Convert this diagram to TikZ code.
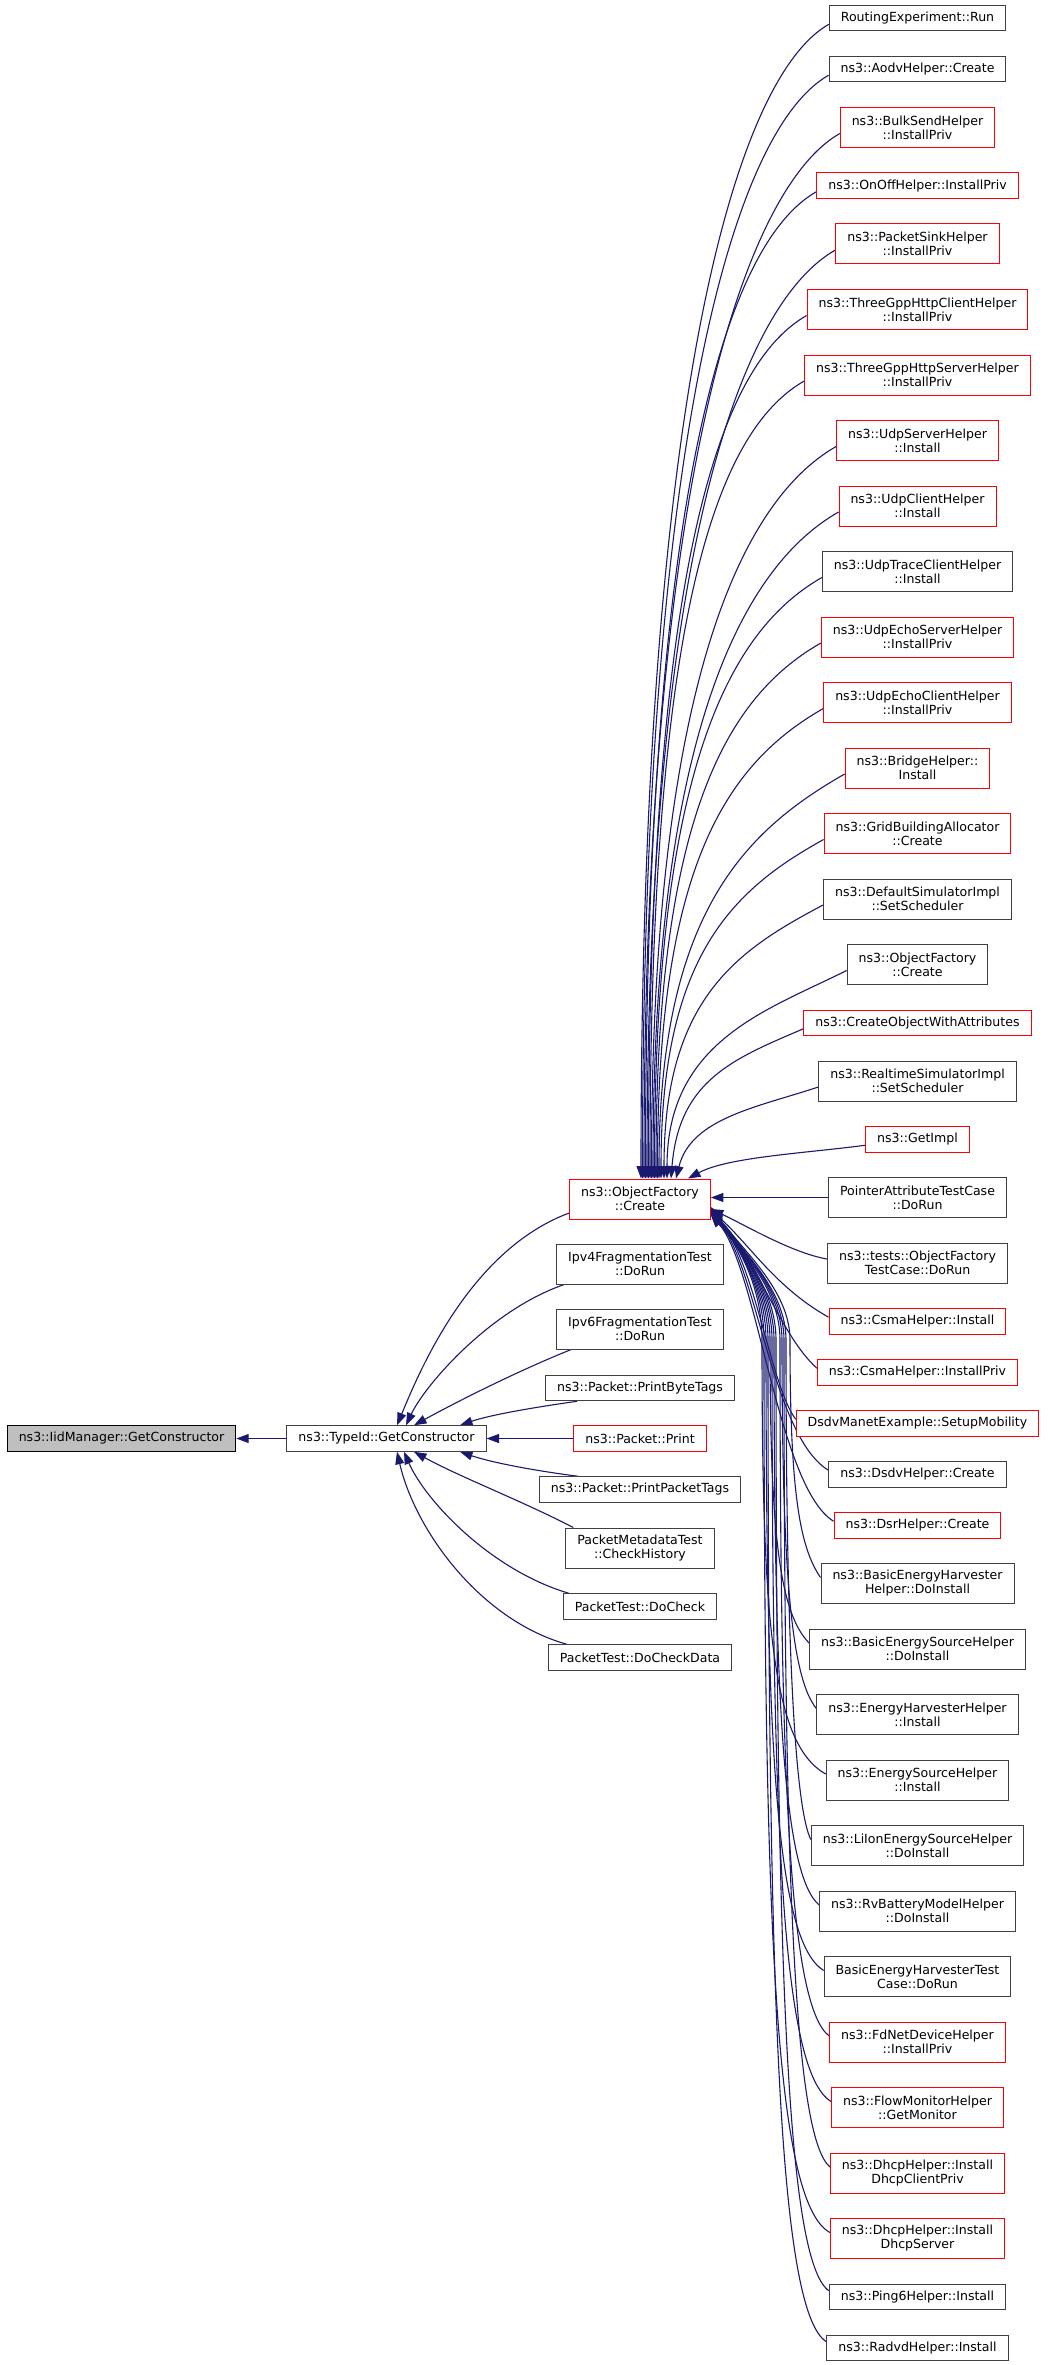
\documentclass[tikz,border=0pt]{standalone}
\usepackage{fontspec}
\newfontfamily\dvs{DejaVu Sans}
\usetikzlibrary{arrows.meta,calc}
\definecolor{edgeblue}{RGB}{25,25,112}
\definecolor{boxgray}{RGB}{64,64,64}
\definecolor{boxred}{RGB}{255,0,0}
\definecolor{fillgray}{RGB}{191,191,191}
\pgfdeclarelayer{bg}
\pgfsetlayers{bg,main}
\tikzset{
  nb/.style={draw=boxgray, line width=1pt, fill=white, font=\dvs\fontsize{12.56}{14}\selectfont, align=center, inner xsep=11.5pt, inner ysep=1pt, minimum height=25.5pt},
  nr/.style={nb, draw=boxred},
  two/.style={minimum height=40pt},
  call/.style={draw=edgeblue, line width=1.1pt, {Triangle[length=12.5pt,width=9pt]}-},
}
\begin{document}
\begin{tikzpicture}[x=1pt,y=-1pt]
\useasboundingbox (0,0) rectangle (1048,2365);
% left
\node[nb, draw=black, fill=fillgray] (iid) at (121.5,1438.5) {ns3::IidManager::GetConstructor};
\node[nb] (tid) at (386.5,1438.5) {ns3::TypeId::GetConstructor};
% middle
\node[nr,two] (of) at (640,1199) {ns3::ObjectFactory\\::Create};
\node[nb,two] (ipv4) at (640,1264) {Ipv4FragmentationTest\\::DoRun};
\node[nb,two] (ipv6) at (640,1329) {Ipv6FragmentationTest\\::DoRun};
\node[nb] (pbt) at (640,1388) {ns3::Packet::PrintByteTags};
\node[nr] (pp) at (640,1438.5) {ns3::Packet::Print};
\node[nb] (ppt) at (640,1489.5) {ns3::Packet::PrintPacketTags};
\node[nb,two] (ch) at (640,1548) {PacketMetadataTest\\::CheckHistory};
\node[nb] (dc) at (640,1606.5) {PacketTest::DoCheck};
\node[nb] (dcd) at (640,1657.5) {PacketTest::DoCheckData};
% right
\node[nb] (r1) at (917.5,18.25) {RoutingExperiment::Run};
\node[nb] (r2) at (917.5,69.25) {ns3::AodvHelper::Create};
\node[nr,two] (r3) at (917.5,127.5) {ns3::BulkSendHelper\\::InstallPriv};
\node[nr] (r4) at (917.5,185.75) {ns3::OnOffHelper::InstallPriv};
\node[nr,two] (r5) at (917.5,244) {ns3::PacketSinkHelper\\::InstallPriv};
\node[nr,two] (r6) at (917.5,309.5) {ns3::ThreeGppHttpClientHelper\\::InstallPriv};
\node[nr,two] (r7) at (917.5,375) {ns3::ThreeGppHttpServerHelper\\::InstallPriv};
\node[nr,two] (r8) at (917.5,440.5) {ns3::UdpServerHelper\\::Install};
\node[nr,two] (r9) at (917.5,506) {ns3::UdpClientHelper\\::Install};
\node[nb,two] (r10) at (917.5,571.5) {ns3::UdpTraceClientHelper\\::Install};
\node[nr,two] (r11) at (917.5,637) {ns3::UdpEchoServerHelper\\::InstallPriv};
\node[nr,two] (r12) at (917.5,702.5) {ns3::UdpEchoClientHelper\\::InstallPriv};
\node[nr,two] (r13) at (917.5,768) {ns3::BridgeHelper::\\Install};
\node[nr,two] (r14) at (917.5,833.5) {ns3::GridBuildingAllocator\\::Create};
\node[nb,two] (r15) at (917.5,899) {ns3::DefaultSimulatorImpl\\::SetScheduler};
\node[nb,two] (r16) at (917.5,964.5) {ns3::ObjectFactory\\::Create};
\node[nr] (r17) at (917.5,1022.75) {ns3::CreateObjectWithAttributes};
\node[nb,two] (r18) at (917.5,1081) {ns3::RealtimeSimulatorImpl\\::SetScheduler};
\node[nr] (r19) at (917.5,1139.25) {ns3::GetImpl};
\node[nb,two] (r20) at (917.5,1197.5) {PointerAttributeTestCase\\::DoRun};
\node[nb,two] (r21) at (917.5,1263) {ns3::tests::ObjectFactory\\TestCase::DoRun};
\node[nr] (r22) at (917.5,1321.25) {ns3::CsmaHelper::Install};
\node[nr] (r23) at (917.5,1372.25) {ns3::CsmaHelper::InstallPriv};
\node[nr] (r24) at (917.5,1423.25) {DsdvManetExample::SetupMobility};
\node[nb] (r25) at (917.5,1474.25) {ns3::DsdvHelper::Create};
\node[nr] (r26) at (917.5,1525.25) {ns3::DsrHelper::Create};
\node[nb,two] (r27) at (917.5,1583.5) {ns3::BasicEnergyHarvester\\Helper::DoInstall};
\node[nb,two] (r28) at (917.5,1649) {ns3::BasicEnergySourceHelper\\::DoInstall};
\node[nb,two] (r29) at (917.5,1714.5) {ns3::EnergyHarvesterHelper\\::Install};
\node[nb,two] (r30) at (917.5,1780) {ns3::EnergySourceHelper\\::Install};
\node[nb,two] (r31) at (917.5,1845.5) {ns3::LiIonEnergySourceHelper\\::DoInstall};
\node[nb,two] (r32) at (917.5,1911) {ns3::RvBatteryModelHelper\\::DoInstall};
\node[nb,two] (r33) at (917.5,1976.5) {BasicEnergyHarvesterTest\\Case::DoRun};
\node[nr,two] (r34) at (917.5,2042) {ns3::FdNetDeviceHelper\\::InstallPriv};
\node[nr,two] (r35) at (917.5,2107.5) {ns3::FlowMonitorHelper\\::GetMonitor};
\node[nr,two] (r36) at (917.5,2173) {ns3::DhcpHelper::Install\\DhcpClientPriv};
\node[nr,two] (r37) at (917.5,2238.5) {ns3::DhcpHelper::Install\\DhcpServer};
\node[nb] (r38) at (917.5,2296.75) {ns3::Ping6Helper::Install};
\node[nb] (r39) at (917.5,2347.75) {ns3::RadvdHelper::Install};

\begin{pgfonlayer}{bg}
% left edges
\draw[call] (iid.east) -- (tid.west);
\draw[call] ([xshift=10.5]tid.north) .. controls (420,1370) and (470,1250) .. ([yshift=-14]of.west);
\draw[call] ([xshift=19.5]tid.north) .. controls (425,1385) and (490,1310) .. ([xshift=8]ipv4.south west);
\draw[call] ([xshift=27.5]tid.north) .. controls (460,1400) and (520,1370) .. ([xshift=15]ipv6.south west);
\draw[call] ([xshift=73.5]tid.north) .. controls (490,1415) and (530,1408) .. ([xshift=32]pbt.south west);
\draw[call] (tid.east) -- (pp.west);
\draw[call] ([xshift=73.5]tid.south) .. controls (490,1462) and (530,1470) .. ([xshift=39]ppt.north west);
\draw[call] ([xshift=27.5]tid.south) .. controls (460,1477) and (520,1500) .. ([xshift=8]ch.north west);
\draw[call] ([xshift=17.5]tid.south) .. controls (425,1500) and (490,1570) .. ([xshift=6]dc.north west);
\draw[call] ([xshift=10.5]tid.south) .. controls (415,1530) and (480,1620) .. ([xshift=19]dcd.north west);
% upper right edges
\draw[call] ([xshift=1]of.north) .. controls (641,417) and ($(r1.west)+(-98,62)$) .. ([yshift=-6]r1.west);
\draw[call] ([xshift=2.5]of.north) .. controls (642.5,450) and ($(r2.west)+(-98,62)$) .. ([yshift=-6]r2.west);
\draw[call] ([xshift=4]of.north) .. controls (644,489) and ($(r3.west)+(-98,62)$) .. ([yshift=-6]r3.west);
\draw[call] ([xshift=5.5]of.north) .. controls (645.5,527) and ($(r4.west)+(-98,62)$) .. ([yshift=-6]r4.west);
\draw[call] ([xshift=7]of.north) .. controls (647,566) and ($(r5.west)+(-98,62)$) .. ([yshift=-6]r5.west);
\draw[call] ([xshift=8.5]of.north) .. controls (648.5,609) and ($(r6.west)+(-98,62)$) .. ([yshift=-6]r6.west);
\draw[call] ([xshift=10]of.north) .. controls (650,652) and ($(r7.west)+(-98,62)$) .. ([yshift=-6]r7.west);
\draw[call] ([xshift=11.5]of.north) .. controls (651.5,695) and ($(r8.west)+(-98,62)$) .. ([yshift=-6]r8.west);
\draw[call] ([xshift=13]of.north) .. controls (653,739) and ($(r9.west)+(-98,62)$) .. ([yshift=-6]r9.west);
\draw[call] ([xshift=14.5]of.north) .. controls (654.5,782) and ($(r10.west)+(-98,62)$) .. ([yshift=-6]r10.west);
\draw[call] ([xshift=16]of.north) .. controls (656,825) and ($(r11.west)+(-98,62)$) .. ([yshift=-6]r11.west);
\draw[call] ([xshift=17.5]of.north) .. controls (657.5,868) and ($(r12.west)+(-98,62)$) .. ([yshift=-6]r12.west);
\draw[call] ([xshift=19]of.north) .. controls (659,912) and ($(r13.west)+(-98,62)$) .. ([yshift=-6]r13.west);
\draw[call] ([xshift=21]of.north) .. controls (661,955) and ($(r14.west)+(-90,56)$) .. ([yshift=-6]r14.west);
\draw[call] ([xshift=24]of.north) .. controls (664,998) and ($(r15.west)+(-85,51)$) .. ([yshift=-6]r15.west);
\draw[call] ([xshift=27]of.north) .. controls (667,1041) and ($(r16.west)+(-80,46)$) .. ([yshift=-6]r16.west);
\draw[call] ([xshift=31]of.north) .. controls (679,1080) and ($(r17.west)+(-70,36)$) .. ([yshift=-6]r17.west);
\draw[call] ([xshift=36]of.north) .. controls (691,1118) and ($(r18.west)+(-60,26)$) .. ([yshift=-6]r18.west);
\draw[call] ([xshift=48]of.north) .. controls (728,1157) and ($(r19.west)+(-60,14)$) .. ([yshift=-6]r19.west);
\draw[call] (of.east |- r20.west) -- (r20.west);
% lower right edges
\draw[call] ([yshift=-10]of.east) .. controls (745,1225) and ($(r21.west)+(-35,-10)$) .. ([yshift=4]r21.west);
\draw[call] ([yshift=-11]of.east) .. controls (750,1245) and (775,1287) .. ([yshift=4]r22.west);
\draw[call] ([yshift=-12]of.east) .. controls (755,1255) and (780,1335) .. ([yshift=4]r23.west);
\draw[call] ([yshift=-13]of.east) .. controls (755,1260) and (770,1385) .. ([yshift=4]r24.west);
\draw[call] ([yshift=-14]of.east) .. controls (757,1265) and (772,1436) .. ([yshift=4]r25.west);
\draw[call] ([yshift=-15]of.east) .. controls (758,1270) and (778,1487) .. ([yshift=4]r26.west);
\draw[call] ([yshift=-8]of.east) .. controls (742,1250) and (790,1290) .. (790,1340) .. controls (790,1494) and (800,1547.5) .. ([yshift=6]r27.west);
\draw[call] ([yshift=-9]of.east) .. controls (742,1250) and (770,1290) .. (770,1340) .. controls (770,1537) and (780,1613) .. ([yshift=6]r28.west);
\draw[call] ([yshift=-10]of.east) .. controls (742,1250) and (782,1290) .. (782,1340) .. controls (782,1579.5) and (792,1678.5) .. ([yshift=6]r29.west);
\draw[call] ([yshift=-11]of.east) .. controls (742,1250) and (762,1290) .. (762,1340) .. controls (762,1622) and (772,1744) .. ([yshift=6]r30.west);
\draw[call] ([yshift=-12]of.east) .. controls (742,1250) and (786,1290) .. (786,1340) .. controls (786,1665) and (796,1809.5) .. ([yshift=6]r31.west);
\draw[call] ([yshift=-13]of.east) .. controls (742,1250) and (774,1290) .. (774,1340) .. controls (774,1707) and (784,1875) .. ([yshift=6]r32.west);
\draw[call] ([yshift=-14]of.east) .. controls (742,1250) and (766,1290) .. (766,1340) .. controls (766,1750) and (776,1940.5) .. ([yshift=6]r33.west);
\draw[call] ([yshift=-15]of.east) .. controls (742,1250) and (780,1290) .. (780,1340) .. controls (780,1792) and (790,2006) .. ([yshift=6]r34.west);
\draw[call] ([yshift=-16]of.east) .. controls (742,1250) and (772,1290) .. (772,1340) .. controls (772,1835) and (782,2071.5) .. ([yshift=6]r35.west);
\draw[call] ([yshift=-9.5]of.east) .. controls (742,1250) and (784,1290) .. (784,1340) .. controls (784,1877.5) and (794,2137) .. ([yshift=6]r36.west);
\draw[call] ([yshift=-10.5]of.east) .. controls (742,1250) and (764,1290) .. (764,1340) .. controls (764,1920) and (774,2202.5) .. ([yshift=6]r37.west);
\draw[call] ([yshift=-12.5]of.east) .. controls (742,1250) and (776,1290) .. (776,1340) .. controls (776,1958) and (786,2260.75) .. ([yshift=6]r38.west);
\draw[call] ([yshift=-14.5]of.east) .. controls (742,1250) and (768,1290) .. (768,1340) .. controls (768,1991) and (778,2311.75) .. ([yshift=6]r39.west);
\end{pgfonlayer}
\end{tikzpicture}
\end{document}
